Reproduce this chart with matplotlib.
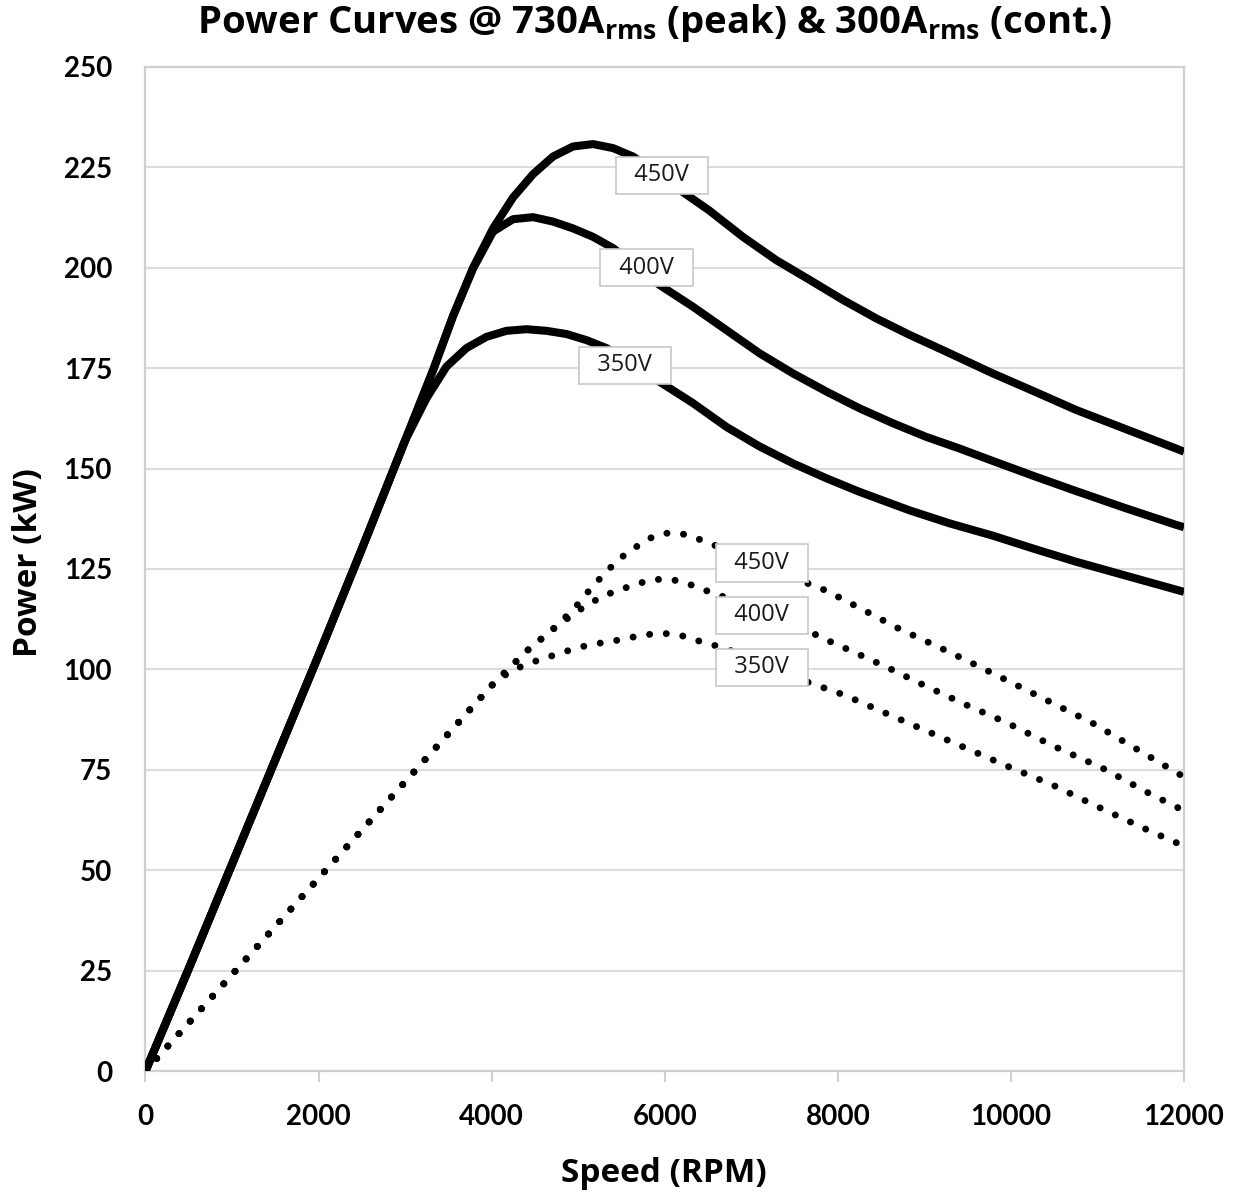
import numpy as np
import matplotlib
matplotlib.use("Agg")
import matplotlib.pyplot as plt

# speeds (RPM) and power (kW)
# peak curves @ 730 Arms (solid)
rpm_p450 = [0, 500, 1000, 1500, 2000, 2500, 3000, 3323, 3554, 3785, 4016, 4247, 4478, 4709, 4940,
            5171, 5402, 5633, 5900, 6172, 6518, 6903, 7288, 7673, 8058, 8443, 8828, 9213, 9790,
            10270, 10753, 11330, 11907, 12000]
kw_p450 = [0, 25.5, 51.5, 77.5, 103.5, 130, 157, 174.5, 188, 200, 209.8, 217.5, 223.3, 227.7, 230.2,
           230.8, 229.8, 227.7, 223.8, 219.4, 214.2, 207.7, 201.9, 197, 192, 187.4, 183.3, 179.5, 173.7,
           169.2, 164.6, 159.8, 155, 154.2]

rpm_p400 = [0, 500, 1000, 1500, 2000, 2500, 3000, 3323, 3554, 3785, 4016, 4247, 4478, 4709, 4940,
            5171, 5402, 5650, 5941, 6326, 6711, 7096, 7481, 7866, 8251, 8635, 9020, 9405, 9790,
            10270, 10753, 11330, 11907, 12000]
kw_p400 = [0, 25.5, 51.5, 77.5, 103.5, 130, 157, 174.5, 188, 199.8, 209, 212.1, 212.6, 211.5, 209.8,
           207.7, 204.9, 200.8, 195.7, 190.3, 184.5, 178.7, 173.7, 169.2, 165, 161.3, 157.9, 155, 151.9,
           148.1, 144.4, 140.1, 136, 135.4]

rpm_p350 = [0, 500, 1000, 1500, 2000, 2500, 3000, 3247, 3478, 3709, 3940, 4171, 4402, 4633, 4864,
            5094, 5326, 5620, 5941, 6326, 6711, 7096, 7481, 7866, 8251, 8828, 9300, 9790, 10270,
            10753, 11400, 12000]
kw_p350 = [0, 25.5, 51.5, 77.5, 103.5, 130, 157, 167.5, 175.4, 180, 182.8, 184.3, 184.7, 184.3, 183.5,
           182, 180, 176.2, 171.6, 166.3, 160.4, 155.5, 151.3, 147.6, 144.2, 139.6, 136.3, 133.3, 130,
           126.8, 122.9, 119.3]

# continuous curves @ 300 Arms (dotted)
rpm_c450 = [0, 1000, 2000, 3000, 4000, 4400, 4786, 5000, 5171, 5460, 5795, 5987, 6180, 6372, 6565,
            7000, 7500, 7866, 8224, 8700, 9300, 9867, 10406, 10945, 11465, 12000]
kw_c450 = [0, 24, 48, 72, 96, 104.5, 111.5, 116.3, 120.8, 127.3, 132.4, 133.9, 133.9, 132.6, 131,
           127, 122.7, 119.6, 115.6, 110.2, 104.2, 98.2, 92.4, 86.6, 80, 73.2]

rpm_c400 = [0, 1000, 2000, 3000, 4000, 4400, 4786, 5050, 5287, 5479, 5679, 5875, 6076, 6261, 6453,
            6654, 7000, 7400, 7751, 7943, 8135, 8600, 9000, 9500, 9963, 10502, 11060, 11600, 12000]
kw_c400 = [0, 24, 48, 72, 96, 104.5, 111.3, 115.3, 118.3, 119.8, 121.3, 122.4, 122.4, 121.4, 119.8,
           118.3, 115, 111.5, 108.6, 106.6, 104.8, 100.2, 96, 91, 86.6, 80.8, 75.4, 69.1, 64.8]

rpm_c350 = [0, 1000, 2000, 3000, 4000, 4200, 4400, 4786, 4979, 5171, 5372, 5575, 5768, 5972, 6164,
            6357, 6557, 6750, 7100, 7693, 8077, 8500, 9000, 9500, 9925, 10483, 11042, 11580, 12000]
kw_c350 = [0, 24, 48, 72, 96, 99.3, 101.3, 104, 105.3, 106.3, 106.9, 107.8, 108.6, 109, 108.6,
           107.3, 106.1, 104.8, 101.2, 96.5, 93.6, 89.6, 84.9, 80.2, 76.2, 71.2, 65.4, 60, 56]

voltages = ["450V", "400V", "350V"]
# where the voltage tags sit (rpm, kW)
tag_rpm_peak = [5965, 5791, 5537]
tag_kw_peak = [223, 200, 175.7]
tag_rpm_cont = [7120, 7120, 7120]
tag_kw_cont = [126.5, 113.5, 100.5]

plt.rcParams["font.family"] = ["Lato", "DejaVu Sans"]
plt.rcParams["mathtext.fontset"] = "custom"
plt.rcParams["mathtext.rm"] = "Open Sans:bold"

fig = plt.figure(figsize=(12.34, 12), dpi=100)
ax = fig.add_axes([0.1179, 0.1075, 0.8416, 0.8367])

for r, k in [(rpm_p450, kw_p450), (rpm_p400, kw_p400), (rpm_p350, kw_p350)]:
    ax.plot(r, k, color="black", lw=5.8, solid_capstyle="butt", solid_joinstyle="round", zorder=3)

for r, k in [(rpm_c450, kw_c450), (rpm_c400, kw_c400), (rpm_c350, kw_c350)]:
    ax.plot(r, k, color="black", lw=5.0, linestyle=(0, (0.01, 2.4)), dash_capstyle="round", zorder=3)

box = dict(boxstyle="square,pad=0.28", fc="white", ec="#c8c8c8", lw=1.2)
for v, x, y in zip(voltages, tag_rpm_peak, tag_kw_peak):
    ax.text(x, y, "  " + v + "  ", ha="center", va="center", fontsize=17, color="#1a1a1a",
            family=["Open Sans", "DejaVu Sans"], bbox=box, zorder=5)
for v, x, y in zip(voltages, tag_rpm_cont, tag_kw_cont):
    ax.text(x, y, "  " + v + "  ", ha="center", va="center", fontsize=17, color="#1a1a1a",
            family=["Open Sans", "DejaVu Sans"], bbox=box, zorder=5)

ax.set_xlim(0, 12000)
ax.set_ylim(0, 250)
ax.set_xticks(np.arange(0, 12001, 2000))
ax.set_yticks(np.arange(0, 251, 25))
ax.yaxis.grid(True, color="#dcdcdc", lw=1.5)
ax.set_axisbelow(True)

for s in ["left", "top", "right", "bottom"]:
    ax.spines[s].set_color("#cfcfcf")
    ax.spines[s].set_linewidth(1.6)

ax.tick_params(axis="x", length=8, width=1.5, color="#cfcfcf", pad=16, labelsize=20)
ax.tick_params(axis="y", length=0, pad=24, labelsize=20)
for lab in ax.get_xticklabels() + ax.get_yticklabels():
    lab.set_fontweight("bold")

bold_font = ["Open Sans", "DejaVu Sans"]
fig.text(29 / 1234, 1 - 563 / 1200, "Power (kW)", rotation=90, ha="center", va="center",
         fontsize=24, fontweight="bold", family=bold_font)
fig.text(664 / 1234, 1 - 1173 / 1200, "Speed (RPM)", ha="center", va="center",
         fontsize=24, fontweight="bold", family=bold_font)
fig.text(655 / 1234, 1 - 23 / 1200,
         r"Power Curves @ 730A$_{\mathrm{rms}}$ (peak) & 300A$_{\mathrm{rms}}$ (cont.)",
         ha="center", va="center", fontsize=27.5, fontweight="bold", family=bold_font)

fig.savefig("out.png", dpi=100, facecolor="white")
